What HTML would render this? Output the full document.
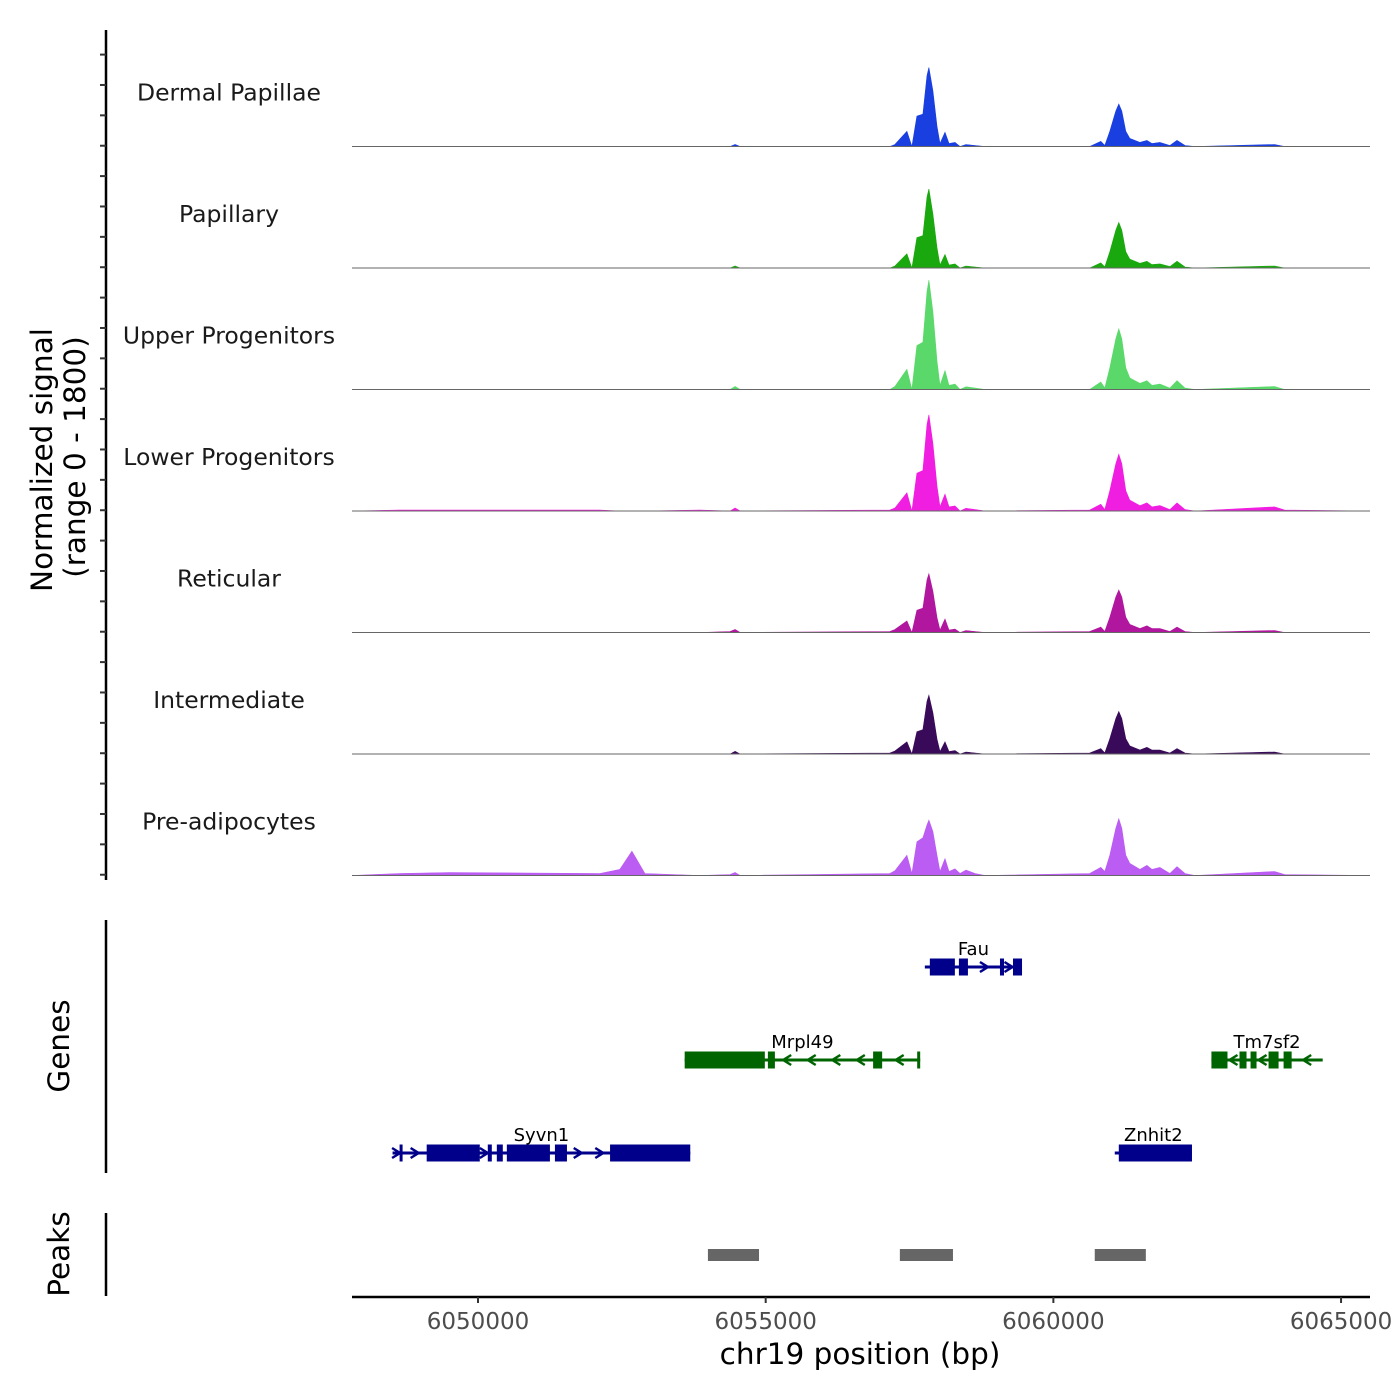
<!DOCTYPE html>
<html><head><meta charset="utf-8">
<style>
html,body{margin:0;padding:0;background:#fff;}
svg{display:block;font-family:"DejaVu Sans","Liberation Sans",sans-serif;}
</style></head>
<body>
<svg id="chart" width="1400" height="1400" viewBox="0 0 1400 1400" xmlns="http://www.w3.org/2000/svg">
<g id="tracks"></g>
<g id="genes"></g>
<g id="peaks"></g>
<g id="axes"></g>
</svg>
<script>
const positions = [6047810,6048632,6049503,6052116,6052465,6052674,6052900,6053858,6054381,6054468,6054555,
6057158,6057245,6057454,6057541,6057628,6057733,6057803,6057837,6057907,6057977,6058029,6058116,6058186,6058290,6058377,6058482,6058639,6058813,
6060632,6060824,6060893,6060980,6061085,6061137,6061189,6061259,6061329,6061503,6061625,6061712,6061851,6062026,6062148,6062287,6062461,
6063845,6064019,6065503];
const trackNames = ["Dermal Papillae","Papillary","Upper Progenitors","Lower Progenitors","Reticular","Intermediate","Pre-adipocytes"];
const trackColors = ["#1a3fe0","#1aa80f","#5ad86a","#f01ee0","#b0169e","#3a0a5a","#bb5cf2"];
const sigDermal = [0,0,0,0,0,0,0,0,0,30,0, 0,30,225,0,450,480,1050,1170,825,300,45,210,45,60,0,30,15,0, 0,75,15,225,525,630,525,225,120,60,90,45,60,15,90,15,0, 30,0,0];
const sigPapillary = [0,0,0,0,0,0,0,0,0,30,0, 0,30,210,0,450,480,1050,1170,800,300,45,200,45,60,0,30,15,0, 0,75,15,240,560,675,560,240,130,70,100,50,60,20,100,15,0, 30,0,0];
const sigUpper = [0,0,0,0,0,0,0,0,0,45,0, 0,45,300,0,650,700,1450,1620,1150,420,60,280,60,80,0,40,20,0, 0,110,20,320,750,900,750,320,170,90,130,60,80,20,130,20,0, 45,0,0];
const sigLower = [0,15,15,15,0,0,0,15,0,45,0, 15,45,270,0,560,600,1280,1425,1000,370,60,250,60,75,0,40,20,0, 15,100,20,300,700,840,700,300,160,80,120,60,80,20,120,20,0, 60,15,0];
const sigReticular = [0,0,0,0,0,0,0,0,15,45,0, 15,45,170,0,330,360,780,870,610,220,35,200,35,50,0,30,15,0, 15,80,15,225,525,630,525,225,120,60,100,60,60,15,80,15,0, 30,0,0];
const sigIntermediate = [0,0,0,0,0,0,0,0,0,40,0, 15,45,180,0,330,360,780,870,610,220,35,180,35,50,0,30,15,0, 15,80,15,225,525,630,525,225,120,60,100,60,60,15,80,15,0, 30,0,0];
const sigPreadipo = [0,30,45,30,90,360,30,0,15,45,0, 30,70,300,30,500,560,750,820,650,300,60,250,60,100,30,80,30,0, 30,120,60,300,700,840,700,300,180,90,150,90,120,30,130,30,0, 60,15,0];
const xTicks = [6050000,6055000,6060000,6065000];
const geneNames = ["Syvn1","Mrpl49","Fau","Znhit2","Tm7sf2"];
const geneStarts = [6048515,6053592,6057766,6061067,6062747];
const geneEnds = [6053689,6057685,6059455,6062409,6064681];
const geneStrands = ["+","-","+","+","-"];
const geneRows = [2,1,0,2,1];
const geneExons = [
 [[6048637,6048689],[6049108,6050031],[6050170,6050240],[6050327,6050431],[6050501,6051250],[6051337,6051546],[6052295,6053689]],
 [[6053592,6054985],[6055038,6055160],[6056867,6057024],[6057633,6057685]],
 [[6057853,6058288],[6058358,6058515],[6059072,6059142],[6059298,6059455]],
 [[6061137,6062409]],
 [[6062747,6063026],[6063235,6063357],[6063427,6063531],[6063740,6063914],[6064001,6064141]]
];
const peakStarts = [6053996,6057332,6060719];
const peakEnds = [6054884,6058255,6061607];

const signals=[sigDermal,sigPapillary,sigUpper,sigLower,sigReticular,sigIntermediate,sigPreadipo];
const NS="http://www.w3.org/2000/svg";
const X0=352,X1=1370,B0=6047810,B1=6065503;
const x=b=>X0+(b-B0)/(B1-B0)*(X1-X0);
const trackTop=25,trackH=121.5,yMax=1800;
const y=(i,v)=>trackTop+(i+1)*trackH-v/yMax*trackH;
function mk(tag,attrs,parent,text){const e=document.createElementNS(NS,tag);for(const k in attrs)e.setAttribute(k,attrs[k]);if(text!==undefined)e.textContent=text;parent.appendChild(e);return e;}

const gT=document.getElementById('tracks');
signals.forEach((s,i)=>{
  const base=y(i,0);
  let d=`M${x(positions[0])},${base}`;
  s.forEach((v,j)=>{d+=`L${x(positions[j]).toFixed(1)},${y(i,v).toFixed(1)}`;});
  d+=`L${x(positions[positions.length-1])},${base}Z`;
  const p=mk('path',{d:d,fill:trackColors[i],stroke:trackColors[i],'stroke-width':0.6},gT);
  
  
  const l=mk('line',{x1:X0,x2:X1,y1:base,y2:base,stroke:'#666',"stroke-width":1},gT);
  
  
  const t=mk('text',{x:229,y:base-46,'text-anchor':'middle','font-size':23.5,fill:'#1a1a1a'},gT,trackNames[i]);
  
  
});

const gA=document.getElementById('axes');
const rowY=[967,1060,1153];
const gG=document.getElementById('genes');
geneNames.forEach((n,gi)=>{
  const col=geneStrands[gi]==='+'?'#00008b':'#006400';
  const yy=rowY[geneRows[gi]];
  const g=mk('g',{},gG);
  
  
  mk('line',{x1:x(geneStarts[gi]),x2:x(geneEnds[gi]),y1:yy,y2:yy,stroke:col,'stroke-width':3},g);
  const ex=geneExons[gi];
  const pts=[geneStarts[gi]];ex.forEach(e=>{pts.push(e[0]);pts.push(e[1]);});pts.push(geneEnds[gi]);
  for(let k=0;k<pts.length;k+=2){
    const a=x(pts[k]),b=x(pts[k+1]);
    if(b-a<6)continue;
    const n2=Math.max(1,Math.floor((b-a)/20));
    for(let m=0;m<n2;m++){
      const cx=a+(b-a)*(m+0.5)/n2;
      const dd=geneStrands[gi]==='+'?4:-4;
      mk('path',{d:`M${cx-dd},${yy-5}L${cx+dd},${yy}L${cx-dd},${yy+5}`,fill:'none',stroke:col,'stroke-width':2.5},g);
    }
  }
  ex.forEach(e=>{mk('rect',{x:x(e[0]),y:yy-8.5,width:Math.max(3,x(e[1])-x(e[0])),height:17,fill:col},g);});
  const lbl=mk('text',{x:(x(geneStarts[gi])+x(geneEnds[gi]))/2,y:yy-12,'text-anchor':'middle','font-size':18,fill:'#000'},g,n);
  
  
});
const gP=document.getElementById('peaks');
peakStarts.forEach((s,i)=>{
  const r=mk('rect',{x:x(s),y:1249,width:x(peakEnds[i])-x(s),height:12,fill:'#666'},gP);
  
  
});
const ya=mk('line',{x1:106,x2:106,y1:30,y2:880,stroke:'#000','stroke-width':2.5},gA);


for(let i=0;i<=7*4;i++){
  const yy=trackTop+29.6+i*(trackH/4);
  if(yy>880)break;
  const tk=mk('line',{x1:100,x2:106,y1:yy,y2:yy,stroke:'#333','stroke-width':2},gA);
  
  
}
const yt=mk('text',{transform:'translate(52,460) rotate(-90)','text-anchor':'middle','font-size':29.5,fill:'#000'},gA,'Normalized signal');


const yt2=mk('text',{transform:'translate(85,457) rotate(-90)','text-anchor':'middle','font-size':29.5,fill:'#000'},gA,'(range 0 - 1800)');


const ga=mk('line',{x1:106,x2:106,y1:920,y2:1173,stroke:'#000','stroke-width':2.5},gA);


const gt=mk('text',{transform:'translate(69,1046) rotate(-90)','text-anchor':'middle','font-size':29.5,fill:'#000'},gA,'Genes');


const pa=mk('line',{x1:106,x2:106,y1:1213,y2:1296,stroke:'#000','stroke-width':2.5},gA);


const pt=mk('text',{transform:'translate(69,1254) rotate(-90)','text-anchor':'middle','font-size':29.5,fill:'#000'},gA,'Peaks');


const xa=mk('line',{x1:X0,x2:X1,y1:1297,y2:1297,stroke:'#000','stroke-width':2.5},gA);


xTicks.forEach(t=>{
  const tk=mk('line',{x1:x(t),x2:x(t),y1:1297,y2:1303,stroke:'#333','stroke-width':2},gA);
  
  
  const tl=mk('text',{x:x(t),y:1329,'text-anchor':'middle','font-size':23,fill:'#4d4d4d'},gA,String(t));
  
  
});
const xt=mk('text',{x:860,y:1364,'text-anchor':'middle','font-size':29.5,fill:'#000'},gA,'chr19 position (bp)');


</script>
</body></html>
